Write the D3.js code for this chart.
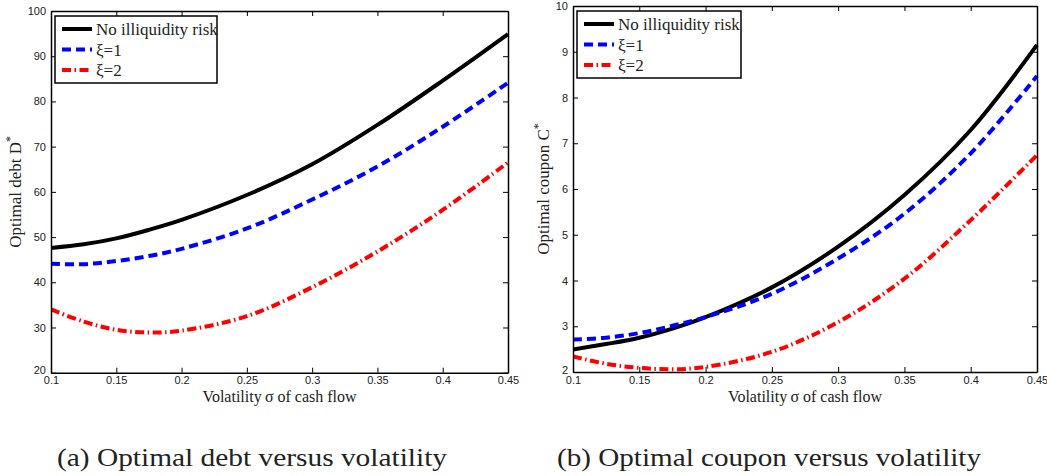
<!DOCTYPE html>
<html>
<head>
<meta charset="utf-8">
<script src="https://cdn.jsdelivr.net/npm/d3@7"></script>
<style>
  body { margin: 0; background: #fff; }
  .tick text { font-family: "Liberation Sans", Arial, sans-serif; font-size: 11px; fill: #222; }
  .lbl { font-family: "Liberation Serif", "Times New Roman", serif; fill: #222; }
</style>
</head>
<body>
<svg id="chart" width="1047" height="476"></svg>
<script>
// sigma values (volatility of cash flow)
const sigma = [0.1, 0.125, 0.15, 0.175, 0.2, 0.25, 0.3, 0.35, 0.4, 0.45];

// (a) optimal debt D*
const debtNoRisk = [47.6, 48.4, 49.7, 51.6, 53.8, 59.3, 66.1, 74.8, 84.6, 94.9];
const debtXi1    = [44.1, 44.0, 44.7, 45.8, 47.4, 51.9, 58.3, 65.6, 74.4, 84.1];
const debtXi2    = [34.0, 31.3, 29.5, 28.9, 29.3, 32.5, 38.9, 46.8, 56.0, 66.5];

// (b) optimal coupon C*
const couponNoRisk = [2.49, 2.61, 2.75, 2.95, 3.20, 3.85, 4.74, 5.87, 7.29, 9.15];
const couponXi1    = [2.71, 2.75, 2.85, 3.01, 3.20, 3.71, 4.48, 5.46, 6.78, 8.47];
const couponXi2    = [2.34, 2.18, 2.09, 2.06, 2.11, 2.44, 3.09, 4.04, 5.32, 6.74];

const xTicks = [0.1, 0.15, 0.2, 0.25, 0.3, 0.35, 0.4, 0.45];
const debtTicks = [20, 30, 40, 50, 60, 70, 80, 90, 100];
const couponTicks = [2, 3, 4, 5, 6, 7, 8, 9, 10];
const seriesNames = ["No illiquidity risk", "\u03BE=1", "\u03BE=2"];
const captions = ["(a) Optimal debt versus volatility", "(b) Optimal coupon versus volatility"];

const styles = [
  { color: "#000000", dash: null },
  { color: "#0000ff", dash: "9,5" },
  { color: "#ff0000", dash: "9,3.5,1.5,3.5" }
];

const svg = d3.select("#chart");

function drawPanel(cfg) {
  const x = d3.scaleLinear().domain([0.1, 0.45]).range([cfg.left, cfg.right]);
  const y = d3.scaleLinear().domain(cfg.yDomain).range([cfg.bottom, cfg.top]);
  const g = svg.append("g");

  const clipId = "clip-" + cfg.id;
  svg.append("clipPath").attr("id", clipId)
    .append("rect")
    .attr("x", cfg.left).attr("y", cfg.top - 2)
    .attr("width", cfg.right - cfg.left + 2).attr("height", cfg.bottom - cfg.top + 2);

  // curves
  const line = d3.line()
    .x((d, i) => x(sigma[i]))
    .y(d => y(d))
    .curve(d3.curveCatmullRom.alpha(0.5));

  cfg.series.forEach((s, k) => {
    g.append("path")
      .attr("d", line(s))
      .attr("clip-path", `url(#${clipId})`)
      .attr("fill", "none")
      .attr("stroke", styles[k].color)
      .attr("stroke-width", 4)
      .attr("stroke-dasharray", styles[k].dash);
  });

  // axes with inward ticks on all four sides
  const fmt = d => String(d);
  g.append("g").attr("transform", `translate(0,${cfg.bottom})`)
    .call(d3.axisBottom(x).tickValues(xTicks).tickFormat(fmt).tickSizeInner(-5).tickSizeOuter(0).tickPadding(4));
  g.append("g").attr("transform", `translate(0,${cfg.top})`)
    .call(d3.axisTop(x).tickValues(xTicks).tickFormat("").tickSizeInner(-5).tickSizeOuter(0));
  const yAxisG = g.append("g").attr("transform", `translate(${cfg.left},0)`)
    .call(d3.axisLeft(y).tickValues(cfg.yTicks).tickFormat(fmt).tickSizeInner(-5).tickSizeOuter(0).tickPadding(5));
  // lift the lowest y label a little so it clears the first x label
  yAxisG.selectAll(".tick text").filter(d => d === cfg.yDomain[0]).attr("dy", "0.1em");
  g.append("g").attr("transform", `translate(${cfg.right},0)`)
    .call(d3.axisRight(y).tickValues(cfg.yTicks).tickFormat("").tickSizeInner(-5).tickSizeOuter(0));
  g.selectAll(".domain").attr("stroke", "#000").attr("stroke-width", 1.5);
  g.selectAll(".tick line").attr("stroke", "#000").attr("stroke-width", 1);

  // axis labels
  g.append("text").attr("class", "lbl")
    .attr("x", (cfg.left + cfg.right) / 2).attr("y", cfg.bottom + 29.5)
    .attr("text-anchor", "middle").attr("font-size", 16)
    .text("Volatility\u2009\u03C3 of cash flow");

  const yl = g.append("text").attr("class", "lbl")
    .attr("transform", `translate(${cfg.ylabelX},${(cfg.top + cfg.bottom) / 2}) rotate(-90)`)
    .attr("text-anchor", "middle").attr("font-size", 17);
  yl.append("tspan").text(cfg.ylabel);
  yl.append("tspan").attr("baseline-shift", "super").attr("font-size", 12).text("*");

  // legend
  const lx = cfg.left + 4, ly = cfg.top + 5, lw = cfg.legendW, lh = 67;
  const leg = g.append("g");
  leg.append("rect").attr("x", lx).attr("y", ly).attr("width", lw).attr("height", lh)
    .attr("fill", "#fff").attr("stroke", "#000").attr("stroke-width", 1.5);
  seriesNames.forEach((name, k) => {
    const ry = ly + 13 + k * 20.5;
    leg.append("line")
      .attr("x1", lx + 7).attr("x2", lx + 37).attr("y1", ry).attr("y2", ry)
      .attr("stroke", styles[k].color).attr("stroke-width", 4)
      .attr("stroke-dasharray", styles[k].dash);
    leg.append("text").attr("class", "lbl")
      .attr("x", lx + 41).attr("y", ry + 6)
      .attr("font-size", 17)
      .text(name);
  });

  // caption
  svg.append("text").attr("class", "lbl")
    .attr("x", cfg.captionX).attr("y", 466)
    .attr("font-size", 26)
    .attr("textLength", cfg.captionW)
    .attr("lengthAdjust", "spacingAndGlyphs")
    .text(cfg.caption);
}

drawPanel({
  id: "a", left: 51, right: 508, top: 11, bottom: 372.7,
  yDomain: [20, 100], yTicks: debtTicks,
  series: [debtNoRisk, debtXi1, debtXi2],
  ylabel: "Optimal debt D", ylabelX: 21, legendW: 162,
  caption: captions[0], captionX: 57, captionW: 390
});

drawPanel({
  id: "b", left: 573, right: 1037, top: 6, bottom: 372,
  yDomain: [2, 10], yTicks: couponTicks,
  series: [couponNoRisk, couponXi1, couponXi2],
  ylabel: "Optimal coupon C", ylabelX: 549, legendW: 164,
  caption: captions[1], captionX: 557, captionW: 424
});
</script>
</body>
</html>
